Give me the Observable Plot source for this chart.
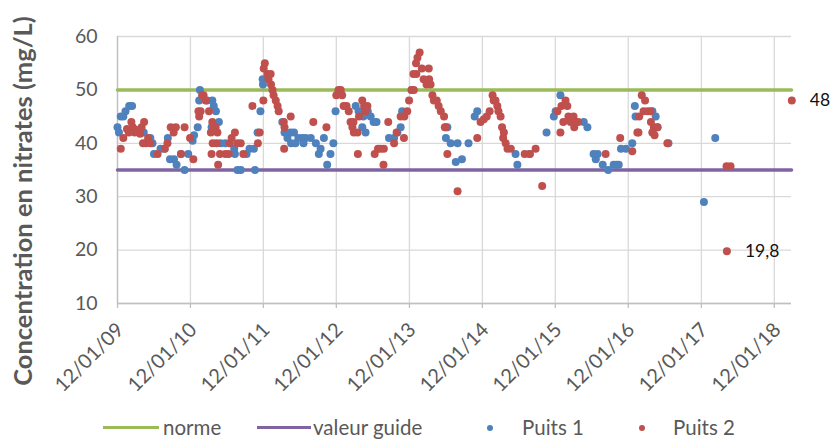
<!DOCTYPE html>
<html><head><meta charset="utf-8">
<script src="https://cdn.jsdelivr.net/npm/d3@7"></script>
<script src="https://cdn.jsdelivr.net/npm/@observablehq/plot@0.6"></script>
<style>
body{margin:0;background:#fff;font-family:Lato,sans-serif;overflow:hidden;}
#chart svg{display:block;}
#legend{position:relative;height:19px;width:830px;color:#595959;font-size:20.5px;line-height:16px;}
#legend .ln{position:absolute;top:3.5px;height:3.5px;}
#legend .dt{position:absolute;top:2.5px;width:6px;height:6px;border-radius:50%;}
#legend .tx{position:absolute;top:-3px;white-space:nowrap;}
</style></head><body>
<div id="chart"></div>
<div id="legend"></div>
<script>
// ---- data ----
const yTitle = "Concentration en nitrates (mg/L)";
const tickLabels = ["12/01/09","12/01/10","12/01/11","12/01/12","12/01/13","12/01/14","12/01/15","12/01/16","12/01/17","12/01/18"];
const yTicks = [10,20,30,40,50,60];
const seriesNames = ["norme","valeur guide","Puits 1","Puits 2"];
const normeValue = 50;
const guideValue = 35;
const dateStart = "2009-01-12";
const dateEnd = "2018-04-08";

// Puits 1 (decimal years, mg/L)
const puits1Years = [2009.03,2009.05,2009.075,2009.11,2009.14,2009.19,2009.23,2009.39,2009.48,2009.51,2009.53,2009.62,2009.67,2009.72,2009.75,2009.805,2009.84,2009.90,2009.95,2010.0,
2010.06,2010.08,2010.13,2010.15,2010.16,2010.26,2010.32,2010.33,2010.35,2010.38,2010.42,2010.445,2010.51,2010.63,2010.64,2010.675,2010.72,2010.80,2010.84,2010.90,
2010.915,2010.95,2010.99,2011.02,2011.025,2011.29,2011.32,2011.36,2011.405,2011.41,2011.45,2011.47,2011.51,2011.565,2011.58,2011.61,2011.68,2011.75,2011.79,2011.815,
2011.86,2011.905,2011.95,2011.99,2012.02,2012.295,2012.335,2012.385,2012.40,2012.43,2012.46,2012.50,2012.54,2012.58,2012.75,2012.82,2012.865,2012.91,2012.93,2013.06,
2013.53,2013.55,2013.595,2013.665,2013.69,2013.75,2013.84,2013.925,2013.96,2014.485,2014.51,2014.68,2014.91,2015.01,2015.035,2015.10,2015.42,2015.47,2015.555,2015.585,
2015.61,2015.68,2015.755,2015.83,2015.87,2015.90,2015.93,2016.0,2016.085,2016.12,2016.13,2016.36,2016.365,2016.405,2016.43,2016.58,2017.065,2017.22];
const puits1Values = [43,42,45,45,46,47,47,42,41,40,38,39,39,41,37,37,36,38,35,38,
40.5,41.5,43,48,50,48,43,48,47,46,44,40,40,39,38,35,35,38,39,39,
35,42,46,52,51,44,42,41,42,40,42,40,41,41,40,41,41,40,38,39,
41,36,38,40,46,47,46,43,45,42,46,45,44,44,41,41,42,43,46,50,
41,43,40,36.5,40,37,40,45,46,38,36,38,42,45,46,49,44,43,38,37,
38,36,35,36,36,36,39,39,40,47,45,46,42,45,43,40,29,41];

// Puits 2 (decimal years, mg/L)
const puits2Years = [2009.075,2009.11,2009.16,2009.185,2009.22,2009.24,2009.265,2009.295,2009.34,2009.36,2009.38,2009.395,2009.42,2009.45,2009.48,2009.58,2009.68,2009.715,2009.76,2009.80,
2009.83,2009.90,2009.95,2010.025,2010.07,2010.14,2010.15,2010.17,2010.19,2010.21,2010.24,2010.285,2010.31,2010.32,2010.33,2010.335,2010.35,2010.375,2010.39,2010.40,
2010.41,2010.435,2010.51,2010.555,2010.57,2010.595,2010.64,2010.675,2010.72,2010.755,2010.88,2010.955,2010.98,2011.03,2011.035,2011.05,2011.085,2011.10,2011.13,2011.135,
2011.155,2011.17,2011.20,2011.225,2011.24,2011.31,2011.315,2011.32,2011.405,2011.715,2011.895,2012.03,2012.06,2012.09,2012.11,2012.13,2012.17,2012.20,2012.225,2012.25,
2012.265,2012.27,2012.32,2012.325,2012.34,2012.385,2012.41,2012.43,2012.455,2012.555,2012.60,2012.635,2012.675,2012.68,2012.74,2012.82,2012.855,2012.91,2012.955,2012.96,
2013.0,2013.025,2013.06,2013.085,2013.09,2013.12,2013.125,2013.14,2013.17,2013.20,2013.225,2013.265,2013.295,2013.30,2013.32,2013.345,2013.365,2013.405,2013.43,2013.46,
2013.505,2013.515,2013.53,2013.55,2013.69,2013.96,2014.005,2014.05,2014.09,2014.13,2014.17,2014.185,2014.21,2014.235,2014.25,2014.28,2014.30,2014.315,2014.325,2014.35,
2014.375,2014.42,2014.61,2014.68,2014.76,2014.85,2015.06,2015.10,2015.115,2015.14,2015.17,2015.195,2015.21,2015.24,2015.265,2015.28,2015.29,2015.32,2015.345,2015.72,
2015.92,2016.085,2016.155,2016.17,2016.18,2016.215,2016.24,2016.26,2016.295,2016.335,2016.34,2016.36,2016.38,2016.39,2016.43,2016.565,2017.375,2017.43,2017.38,2018.27];
const puits2Values = [39,41,42.7,42,44,43,42,42.5,41.8,43,40,44,40,41,40,38,39,40,43,42,
43,38,43,41,37,46,45,46,49,49,48,46,42,38,44,40,43,43,40,42,
36,38,38,38,40,41,42,40,40,38,47,40,42,48,54,55,53,52,53,51,
50,49,48,47,46,44,39,43,45,44,43,49,50,50,49,47,47,46,44,43,
44,42,42,38,45,48,47,46,47,38,39,39,36,39,44,40,42,45,41,45,
46,48,50,53,50,55,53,56,57,54,52,51,54,52,51,49,48,48,47,46,
45,43,43,38,31,41,44,44.5,45,46,49,48,48,47,46,45,43,41,42,40,
39,39,38,38,39,32,46,42,47,44,48,47,45,44,44,45,43,44,44,38,
41,38.5,42,42,45,49,46,48,46,46,44,42,43,41.5,43,40,35.7,35.7,19.8,48];

// labelled points of Puits 2
const labelYears = [2017.38, 2018.27];
const labelValues = [19.8, 48];
const labelTexts = ["19,8", "48"];

// ---- build ----
const toDate = y => { const yr = Math.floor(y); const s = Date.UTC(yr,0,1), e = Date.UTC(yr+1,0,1); return new Date(s + (y-yr)*(e-s)); };
const start = new Date(dateStart + "T00:00:00Z");
const end = new Date(dateEnd + "T00:00:00Z");
const tickDates = tickLabels.map(s => { const [d,m,y] = s.split("/"); return new Date(Date.UTC(2000 + +y, +m-1, +d)); });
const p1 = puits1Years.map((y,i) => ({date: toDate(y), v: puits1Values[i]}));
const p2 = puits2Years.map((y,i) => ({date: toDate(y), v: puits2Values[i]}));
const labels = labelYears.map((y,i) => ({date: toDate(y), v: labelValues[i], t: labelTexts[i]}));
const norme = [{date:start, v:normeValue},{date:end, v:normeValue}];
const guide = [{date:start, v:guideValue},{date:end, v:guideValue}];

const colors = {"norme":"#9BBB59","valeur guide":"#8064A2","Puits 1":"#4F81BD","Puits 2":"#C0504D"};
const grid = "#d9d9d9";

const chart = Plot.plot({
  width: 830, height: 422,
  marginLeft: 117, marginRight: 39, marginTop: 36, marginBottom: 119,
  style: {fontFamily: "Lato, sans-serif", background: "#fff", color: "#595959", overflow: "visible"},
  x: {type: "utc", domain: [start, end]},
  y: {domain: [10, 60]},
  marks: [
    Plot.gridY(yTicks, {stroke: grid, strokeOpacity: 1, strokeWidth: 1.3}),
    Plot.gridX(tickDates, {stroke: grid, strokeOpacity: 1, strokeWidth: 1.3}),
    Plot.ruleX([start], {stroke: "#bfbfbf", strokeWidth: 1.3}),
    Plot.ruleY([10], {stroke: "#bfbfbf", strokeWidth: 1.3}),
    Plot.axisX({ticks: tickDates, tickSize: 5, tickFormat: () => "", stroke: "#bfbfbf", strokeWidth: 1.3, label: null}),
    Plot.text(tickDates, {x: d => d, text: (d,i) => tickLabels[i], frameAnchor: "bottom", rotate: -45, textAnchor: "end", lineAnchor: "middle", dx: 3, dy: 23, fontSize: 20, fill: "#595959"}),
    Plot.axisY({ticks: yTicks, tickSize: 0, tickPadding: 20, fontSize: 19.5, fill: "#595959", label: null}),
    Plot.text([yTitle], {frameAnchor: "left", rotate: -90, dx: -94, dy: 31, textAnchor: "middle", lineAnchor: "middle", fontSize: 25.5, fontWeight: "bold", fill: "#595959"}),
    Plot.line(norme, {x: "date", y: "v", stroke: colors["norme"], strokeWidth: 3.5}),
    Plot.line(guide, {x: "date", y: "v", stroke: colors["valeur guide"], strokeWidth: 3.5}),
    Plot.dot(p1, {x: "date", y: "v", r: 4, fill: colors["Puits 1"], stroke: null}),
    Plot.dot(p2, {x: "date", y: "v", r: 4, fill: colors["Puits 2"], stroke: null}),
    Plot.text(labels, {x: "date", y: "v", text: "t", textAnchor: "start", dx: 18, fontSize: 17.5, fill: "#111"})
  ]
});
document.getElementById("chart").appendChild(chart);

// legend
const lg = document.getElementById("legend");
const items = [
  {name: seriesNames[0], kind: "ln", x: 103, w: 56, tx: 163},
  {name: seriesNames[1], kind: "ln", x: 257, w: 54, tx: 313},
  {name: seriesNames[2], kind: "dt", x: 487, tx: 522},
  {name: seriesNames[3], kind: "dt", x: 639, tx: 673}
];
for (const it of items) {
  const m = document.createElement("div");
  m.className = it.kind;
  m.style.left = it.x + "px";
  if (it.kind === "ln") m.style.width = it.w + "px";
  m.style.background = colors[it.name];
  lg.appendChild(m);
  const t = document.createElement("div");
  t.className = "tx";
  t.style.left = it.tx + "px";
  t.textContent = it.name;
  lg.appendChild(t);
}
</script></body></html>
